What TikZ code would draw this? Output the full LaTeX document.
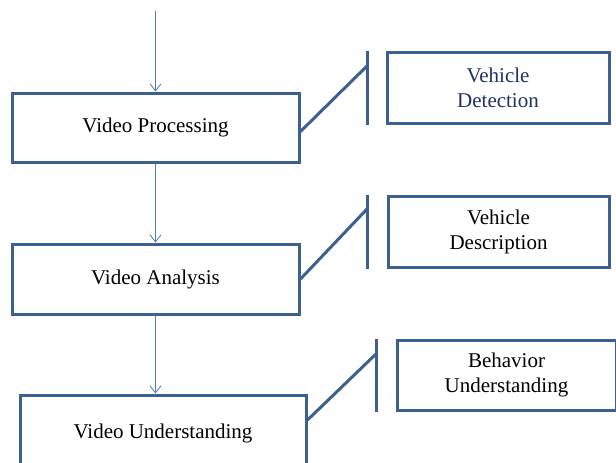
\documentclass[tikz,border=0pt]{standalone}
\usepackage{fontspec}
\setmainfont{Liberation Serif}
\usetikzlibrary{arrows.meta}
\definecolor{boxblue}{HTML}{3C6090}
\definecolor{flowblue}{HTML}{4A7EBB}
\definecolor{navytext}{HTML}{1F3266}
\begin{document}
\begin{tikzpicture}[x=1pt,y=-1pt,
  stage/.style={draw=boxblue, line width=3pt, fill=white, inner sep=0pt,
    anchor=north west, font=\fontsize{21}{25}\selectfont},
  task/.style={stage, align=center},
  flow/.style={draw=flowblue, line width=0.8pt,
    -{Straight Barb[length=7pt,width=11pt,line width=0.8pt]}},
  callout/.style={draw=boxblue, line width=3pt}]
  \useasboundingbox (0,0) rectangle (616,463);
  \clip (0,0) rectangle (616,463);

  % main pipeline
  \node[stage, minimum width=287pt, minimum height=69pt] (proc) at (10.5,91.5) {Video Processing};
  \node[stage, minimum width=287pt, minimum height=70pt] (ana) at (10.5,242.5) {Video Analysis};
  \node[stage, minimum width=286pt, minimum height=76pt] (und) at (18.5,393.5) {Video Understanding};

  % tasks attached to each stage
  \node[task, minimum width=222pt, minimum height=71pt, text=navytext] (det) at (385.5,50.5) {Vehicle\\Detection};
  \node[task, minimum width=221pt, minimum height=71pt] (desc) at (386.5,194.5) {Vehicle\\Description};
  \node[task, minimum width=219pt, minimum height=70pt] (beh) at (395.5,338.5) {Behavior\\Understanding};

  % flow arrows
  \coordinate (in) at (proc.north |- 0,11);
  \draw[flow] (in) -- (proc.north);
  \draw[flow] (proc.south) -- (ana.north);
  \draw[flow] (ana.south) -- (ana.south |- und.north);

  % callout brackets
  \coordinate (b1t) at ([xshift=-18pt]det.north west);
  \coordinate (b1b) at ([xshift=-18pt]det.south west);
  \coordinate (b1m) at ([xshift=-18pt,yshift=-15pt]det.north west);
  \draw[callout] (b1t) -- (b1b);
  \draw[callout] ([yshift=-4pt]proc.east) -- (b1m);

  \coordinate (b2t) at ([xshift=-19pt]desc.north west);
  \coordinate (b2b) at ([xshift=-19pt]desc.south west);
  \coordinate (b2m) at ([xshift=-19pt,yshift=-14pt]desc.north west);
  \draw[callout] (b2t) -- (b2b);
  \draw[callout] (ana.east) -- (b2m);

  \coordinate (b3t) at ([xshift=-19pt]beh.north west);
  \coordinate (b3b) at ([xshift=-19pt]beh.south west);
  \coordinate (b3m) at ([xshift=-19pt,yshift=-15pt]beh.north west);
  \draw[callout] (b3t) -- (b3b);
  \draw[callout] ([yshift=13pt]und.east) -- (b3m);
\end{tikzpicture}
\end{document}
